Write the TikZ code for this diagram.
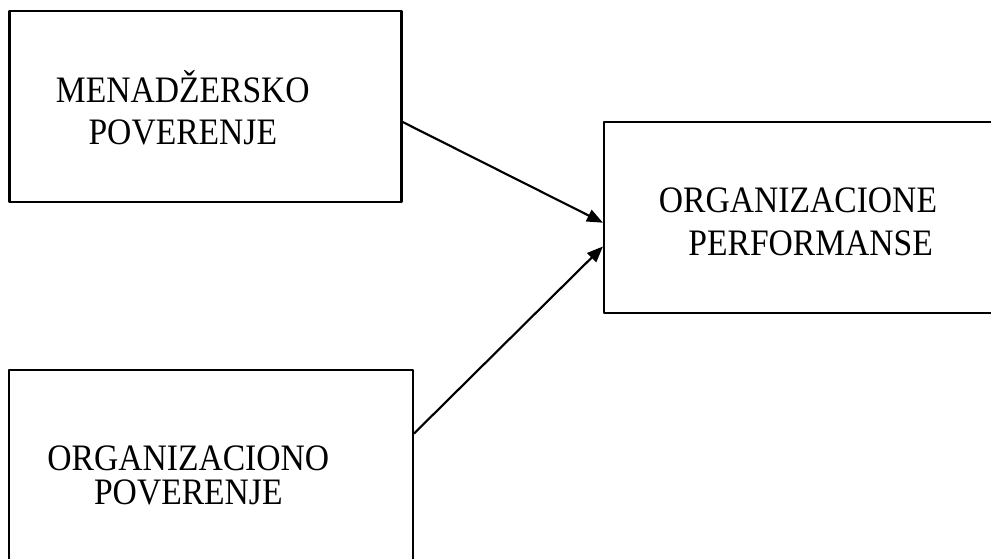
\documentclass[tikz,border=0pt]{standalone}
\usepackage{fontspec}
\setmainfont{Liberation Serif}[FakeStretch=0.9]
\usetikzlibrary{arrows.meta,calc}
\begin{document}
\begin{tikzpicture}[x=0.75pt, y=-0.75pt, line join=round, >={Triangle[length=12pt,width=9.5pt]},
	box/.style={draw, line width=1.6pt, inner sep=0pt},
	lbl/.style={align=center, font=\fontsize{28}{32}\selectfont}]
	\useasboundingbox (0,0) rectangle (991,559);
	\clip (0,0) rectangle (991,559);
	% boxes
	\node[box, minimum width=294pt, minimum height=143.25pt,
		label={[lbl, xshift=-17pt, yshift=-1pt]center:MENADŽERSKO\\POVERENJE}] (men) at (205.5,106.5) {};
	\node[box, minimum width=297pt, minimum height=143.25pt,
		label={[lbl, xshift=-3pt, yshift=-3pt]center:ORGANIZACIONE\\\hspace*{19pt}PERFORMANSE}] (perf) at (802,217.5) {};
	\node[box, minimum width=302.8pt, minimum height=150pt,
		label={[lbl, font=\fontsize{28}{26}\selectfont, xshift=-17pt, yshift=-4pt]center:ORGANIZACIONO\\POVERENJE}] (org) at (211,470) {};
	% arrows
	\draw[->, line width=1.6pt] ($(men.north east)!0.58!(men.south east)$) -- ($(perf.north west)!0.527!(perf.south west)$);
	\draw[->, line width=1.6pt] ($(org.north east)!0.32!(org.south east)$) -- ($(perf.north west)!0.65!(perf.south west)$);
\end{tikzpicture}
\end{document}
